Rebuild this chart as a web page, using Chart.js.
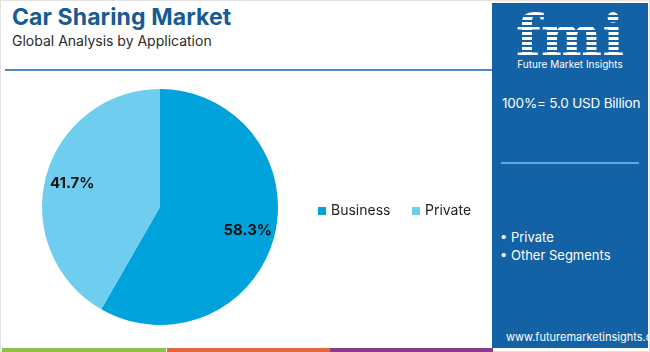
<!DOCTYPE html>
<html>
<head>
<meta charset="utf-8">
<script src="https://cdn.jsdelivr.net/npm/chart.js@4"></script>
<style>
  html, body { margin: 0; padding: 0; background: #fff; }
  body { width: 650px; height: 352px; position: relative; overflow: hidden; font-family: "Open Sans", sans-serif; }
  .frame { position: absolute; left: 0; top: 0; width: 648px; height: 350px; border: 1px solid #e2e2e2; }
  .title { position: absolute; left: 12px; top: 3px; font: bold 23px Inter, sans-serif; color: #175a94; letter-spacing: 0.1px; }
  .subtitle { position: absolute; left: 12px; top: 32px; font: 14px Inter, sans-serif; color: #2b2b2b; }
  .hline { position: absolute; left: 5px; top: 69px; width: 487px; height: 2px; background: #4a8bc6; }
  #wrap { position: absolute; left: 0; top: 75px; width: 490px; height: 272px; }
  .panel { position: absolute; left: 492px; top: 3px; width: 156px; height: 345px; background: #1462a6; color: #fff; font-family: Inter, sans-serif; }
  .logo { position: absolute; left: 0; width: 156px; top: 4px; text-align: center; font: bold 58px "DejaVu Serif", serif; line-height: 58px;
          background: repeating-linear-gradient(#fff 0 3px, #1462a6 3px 5px); -webkit-background-clip: text; background-clip: text; color: transparent; }
  .logo-sub { position: absolute; left: 0; width: 156px; top: 55px; text-align: center; font-size: 10px; }
  .total { position: absolute; left: 10px; top: 92px; font-size: 13.5px; white-space: nowrap; letter-spacing: -0.2px; }
  .pline { position: absolute; left: 9px; top: 159px; width: 138px; height: 2px; background: #5fa6df; }
  .seg { position: absolute; left: 8px; font-size: 13px; }
  .url { position: absolute; left: 14px; top: 327px; font-size: 11px; }
  .stripe { position: absolute; top: 348px; height: 4px; }
</style>
</head>
<body>
<div class="frame"></div>
<div class="title">Car Sharing Market</div>
<div class="subtitle">Global Analysis by Application</div>
<div class="hline"></div>
<div id="wrap"><canvas id="pie"></canvas></div>
<div class="panel">
  <div class="logo">fmi</div>
  <div class="logo-sub">Future Market Insights</div>
  <div class="total">100%= 5.0 USD Billion</div>
  <div class="pline"></div>
  <div class="seg" style="top:226px">• Private</div>
  <div class="seg" style="top:244px">• Other Segments</div>
  <div class="url">www.futuremarketinsights.com</div>
</div>
<div class="stripe" style="left:2px;width:164px;background:#8cc04b"></div>
<div class="stripe" style="left:167px;width:163px;background:#e2683c"></div>
<div class="stripe" style="left:330px;width:163px;background:#8b3a8c"></div>
<script>
// segment data
const categories = ['Business', 'Private'];
const shares = [58.3, 41.7];
const colors = ['#00a2db', '#6fcdf0'];

// percentage labels inside the slices
const sliceLabels = {
  id: 'sliceLabels',
  afterDatasetsDraw(chart) {
    const ctx = chart.ctx;
    const meta = chart.getDatasetMeta(0);
    ctx.save();
    ctx.font = 'bold 15px Inter, sans-serif';
    ctx.fillStyle = '#111';
    ctx.textAlign = 'center';
    ctx.textBaseline = 'middle';
    meta.data.forEach((arc, i) => {
      const p = arc.getProps(['x', 'y', 'startAngle', 'endAngle', 'outerRadius'], true);
      const mid = (p.startAngle + p.endAngle) / 2;
      const r = p.outerRadius * 0.77;
      ctx.fillText(shares[i].toFixed(1) + '%', p.x + Math.cos(mid) * r, p.y + Math.sin(mid) * r);
    });
    ctx.restore();
  }
};

// horizontal legend to the right of the pie
const sideLegend = {
  id: 'sideLegend',
  afterDraw(chart) {
    const ctx = chart.ctx;
    let x = 318;
    const y = 136;
    ctx.save();
    ctx.font = '14px Inter, sans-serif';
    ctx.textBaseline = 'middle';
    chart.data.labels.forEach((label, i) => {
      ctx.fillStyle = chart.data.datasets[0].backgroundColor[i];
      ctx.fillRect(x, y - 4, 8, 8);
      ctx.fillStyle = '#222';
      ctx.fillText(label, x + 13, y);
      x += 94;
    });
    ctx.restore();
  }
};

new Chart(document.getElementById('pie'), {
  type: 'pie',
  data: {
    labels: categories,
    datasets: [{ data: shares, backgroundColor: colors, borderWidth: 0 }]
  },
  options: {
    responsive: true,
    maintainAspectRatio: false,
    animation: false,
    layout: { padding: { left: 42, right: 212, top: 14, bottom: 22 } },
    plugins: { legend: { display: false }, tooltip: { enabled: false } }
  },
  plugins: [sliceLabels, sideLegend]
});
</script>
</body>
</html>
